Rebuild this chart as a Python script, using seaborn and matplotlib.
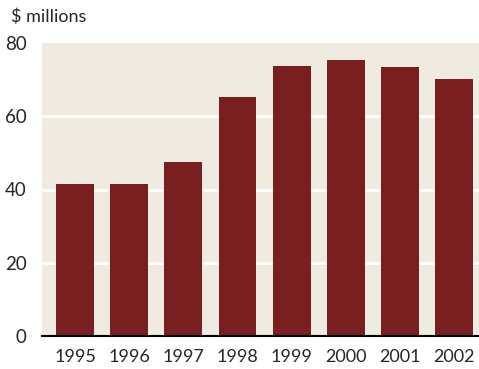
import matplotlib
matplotlib.use("Agg")
import matplotlib.pyplot as plt
import seaborn as sns
import pandas as pd

years = ["1995", "1996", "1997", "1998", "1999", "2000", "2001", "2002"]
values = [41.5, 41.5, 47.5, 65.3, 73.8, 75.4, 73.5, 70.2]
yticks = [0, 20, 40, 60, 80]

sns.set_style("white")
plt.rcParams['font.family'] = ['Lato', 'DejaVu Sans']

df = pd.DataFrame({"year": years, "value": values})

fig = plt.figure(figsize=(4.79, 3.69), dpi=100)
ax = fig.add_axes([42/479, 33/369, 437/479, 293/369])
ax.set_facecolor("#f0ebe1")

sns.barplot(data=df, x="year", y="value", color="#7a1f20", width=0.7,
            saturation=1, linewidth=0, edgecolor="none", ax=ax, zorder=3)

for t in [20, 40, 60]:
    ax.axhline(t, color="white", lw=2, zorder=2)

ax.set_ylim(0, 80)
ax.set_xlim(-0.61, 7.46)
ax.set_yticks(yticks)
ax.set_yticklabels([str(t) for t in yticks], fontsize=13.5)
ax.tick_params(axis="x", labelsize=13, length=0, pad=9)
ax.tick_params(axis="y", length=0, pad=11)
ax.set_xlabel("")
ax.set_ylabel("")
for s in ["top", "right", "left"]:
    ax.spines[s].set_visible(False)
ax.spines["bottom"].set_color("black")
ax.spines["bottom"].set_linewidth(1.5)
ax.spines["bottom"].set_zorder(4)

fig.text(11/479, 1 - 17/369, "$ millions", fontsize=13, va="center", ha="left")

fig.savefig("out.png", dpi=100)
